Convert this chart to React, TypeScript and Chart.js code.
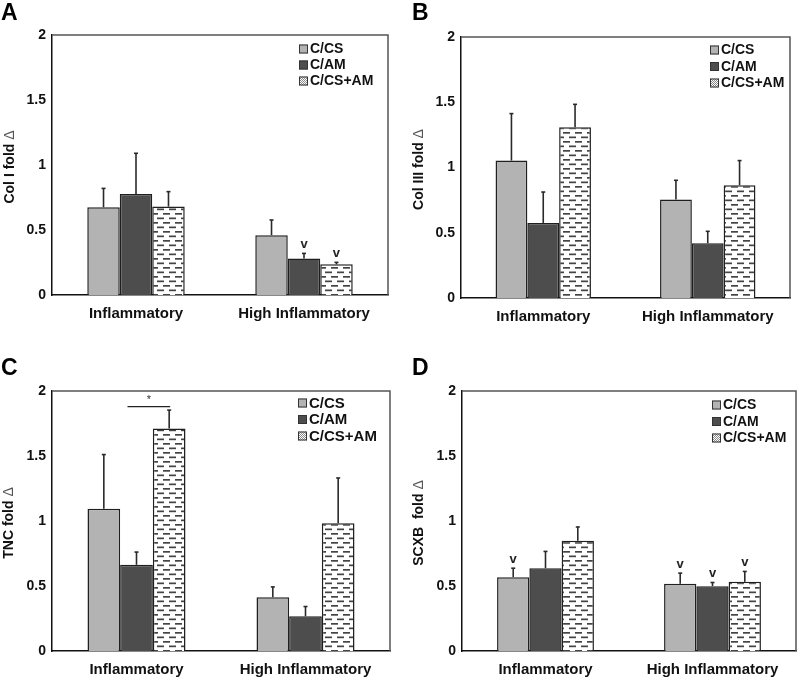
import React, { useEffect, useRef } from "react";
import { Chart, registerables } from "chart.js";
Chart.register(...registerables);

// ---------- DATA ----------
const categories = ["Inflammatory", "High Inflammatory"];
const seriesNames = ["C/CS", "C/AM", "C/CS+AM"];
const yTickValues = [0, 0.5, 1, 1.5, 2];

// Panel A: Col I
const colI_CS = [0.675, 0.46];
const colI_AM = [0.777, 0.28];
const colI_CSAM = [0.68, 0.236];
const colI_CS_sd = [0.145, 0.117];
const colI_AM_sd = [0.313, 0.04];
const colI_CSAM_sd = [0.115, 0.015];
const colI_CS_mark = ["", ""];
const colI_AM_mark = ["", "v"];
const colI_CSAM_mark = ["", "v"];

// Panel B: Col III
const colIII_CS = [1.053, 0.754];
const colIII_AM = [0.575, 0.419];
const colIII_CSAM = [1.308, 0.864];
const colIII_CS_sd = [0.36, 0.148];
const colIII_AM_sd = [0.237, 0.092];
const colIII_CSAM_sd = [0.176, 0.189];
const colIII_CS_mark = ["", ""];
const colIII_AM_mark = ["", ""];
const colIII_CSAM_mark = ["", ""];

// Panel C: TNC
const tnc_CS = [1.095, 0.414];
const tnc_AM = [0.663, 0.267];
const tnc_CSAM = [1.712, 0.982];
const tnc_CS_sd = [0.416, 0.079];
const tnc_AM_sd = [0.098, 0.075];
const tnc_CSAM_sd = [0.141, 0.349];
const tnc_CS_mark = ["", ""];
const tnc_AM_mark = ["", ""];
const tnc_CSAM_mark = ["", ""];
// significance bracket: category index, from series, to series, y value, label
const tnc_sigCategory = 0;
const tnc_sigFrom = 1;
const tnc_sigTo = 2;
const tnc_sigValue = 1.88;
const tnc_sigLabel = "*";

// Panel D: SCXB
const scxb_CS = [0.568, 0.517];
const scxb_AM = [0.637, 0.499];
const scxb_CSAM = [0.848, 0.532];
const scxb_CS_sd = [0.069, 0.082];
const scxb_AM_sd = [0.129, 0.028];
const scxb_CSAM_sd = [0.106, 0.08];
const scxb_CS_mark = ["v", "v"];
const scxb_AM_mark = ["", "v"];
const scxb_CSAM_mark = ["", "v"];

// ---------- STYLE ----------
const FONT = "'Liberation Sans', Arial, sans-serif";
const COL_CS = "#b3b3b3";
const COL_AM = "#4d4d4d";
const BORDER = "#1f1f1f";

function makeDashPattern(): CanvasPattern | string {
  const c = document.createElement("canvas");
  c.width = 12;
  c.height = 9;
  const g = c.getContext("2d");
  if (!g) return "#fff";
  g.fillStyle = "#ffffff";
  g.fillRect(0, 0, 12, 9);
  g.fillStyle = "#444";
  g.fillRect(1, 1.5, 7, 1.7);
  g.fillRect(7, 6, 5, 1.7);
  g.fillRect(0, 6, 2, 1.7);
  const p = g.createPattern(c, "repeat");
  return p || "#fff";
}

function makeBoxPattern(): CanvasPattern | string {
  const c = document.createElement("canvas");
  c.width = 2;
  c.height = 2;
  const g = c.getContext("2d");
  if (!g) return "#ddd";
  g.fillStyle = "#ffffff";
  g.fillRect(0, 0, 2, 2);
  g.fillStyle = "#888";
  g.fillRect(0, 0, 1, 1);
  g.fillRect(1, 1, 1, 1);
  return g.createPattern(c, "repeat") || "#ddd";
}

type Panel = {
  letter: string;
  yTitle: string;
  values: number[][];
  sds: number[][];
  marks: string[][];
  sig?: { cat: number; from: number; to: number; value: number; label: string };
  // layout
  left: number; top: number; w: number; h: number;
  padTop: number; padRight: number; yWidth: number; xHeight: number;
  legendX: number; legendY: number; legendGap: number; legendFont: number;
  titleX: number; letterX: number; letterY: number;
};

const panels: Panel[] = [
  {
    letter: "A", yTitle: "Col I fold",
    values: [colI_CS, colI_AM, colI_CSAM],
    sds: [colI_CS_sd, colI_AM_sd, colI_CSAM_sd],
    marks: [colI_CS_mark, colI_AM_mark, colI_CSAM_mark],
    left: 0, top: 0, w: 400, h: 339,
    padTop: 35, padRight: 12, yWidth: 52, xHeight: 44,
    legendX: 299, legendY: 49, legendGap: 16, legendFont: 14,
    titleX: 10, letterX: 1, letterY: 20,
  },
  {
    letter: "B", yTitle: "Col III fold",
    values: [colIII_CS, colIII_AM, colIII_CSAM],
    sds: [colIII_CS_sd, colIII_AM_sd, colIII_CSAM_sd],
    marks: [colIII_CS_mark, colIII_AM_mark, colIII_CSAM_mark],
    left: 400, top: 0, w: 400, h: 339,
    padTop: 37, padRight: 10, yWidth: 61, xHeight: 41,
    legendX: 310, legendY: 50, legendGap: 16.5, legendFont: 14,
    titleX: 19, letterX: 12, letterY: 20,
  },
  {
    letter: "C", yTitle: "TNC fold",
    values: [tnc_CS, tnc_AM, tnc_CSAM],
    sds: [tnc_CS_sd, tnc_AM_sd, tnc_CSAM_sd],
    marks: [tnc_CS_mark, tnc_AM_mark, tnc_CSAM_mark],
    sig: { cat: tnc_sigCategory, from: tnc_sigFrom, to: tnc_sigTo, value: tnc_sigValue, label: tnc_sigLabel },
    left: 0, top: 338, w: 400, h: 340,
    padTop: 53, padRight: 10, yWidth: 52, xHeight: 27,
    legendX: 298, legendY: 65, legendGap: 16.5, legendFont: 15,
    titleX: 9, letterX: 1, letterY: 37,
  },
  {
    letter: "D", yTitle: "SCXB  fold",
    values: [scxb_CS, scxb_AM, scxb_CSAM],
    sds: [scxb_CS_sd, scxb_AM_sd, scxb_CSAM_sd],
    marks: [scxb_CS_mark, scxb_AM_mark, scxb_CSAM_mark],
    left: 400, top: 338, w: 400, h: 340,
    padTop: 53, padRight: 4, yWidth: 62, xHeight: 27,
    legendX: 312, legendY: 67, legendGap: 16.5, legendFont: 14,
    titleX: 19, letterX: 12, letterY: 37,
  },
];

function PanelChart({ p }: { p: Panel }) {
  const ref = useRef<HTMLCanvasElement | null>(null);
  useEffect(() => {
    if (!ref.current) return;
    const dash = makeDashPattern();
    const boxPat = makeBoxPattern();
    const fills: any[] = [COL_CS, COL_AM, dash];
    const legendFills: any[] = [COL_CS, COL_AM, boxPat];

    const plugin = {
      id: "panelExtras",
      beforeDatasetsDraw(chart: any) {
        const { ctx, chartArea: a } = chart;
        ctx.save();
        ctx.strokeStyle = "#555";
        ctx.lineWidth = 1.5;
        ctx.beginPath();
        ctx.moveTo(a.left, a.top);
        ctx.lineTo(a.right, a.top);
        ctx.lineTo(a.right, a.bottom);
        ctx.stroke();
        ctx.restore();
      },
      afterDatasetsDraw(chart: any) {
        const { ctx } = chart;
        const ys = chart.scales.y;
        ctx.save();
        p.values.forEach((vals, si) => {
          const meta = chart.getDatasetMeta(si);
          meta.data.forEach((el: any, ci: number) => {
            const top = ys.getPixelForValue(vals[ci] + p.sds[si][ci]);
            ctx.strokeStyle = "#2a2a2a";
            ctx.lineWidth = 1.6;
            ctx.beginPath();
            ctx.moveTo(el.x, el.y);
            ctx.lineTo(el.x, top);
            ctx.stroke();
            ctx.beginPath();
            ctx.moveTo(el.x - 2, top);
            ctx.lineTo(el.x + 2, top);
            ctx.stroke();
            const m = p.marks[si][ci];
            if (m) {
              ctx.fillStyle = "#222";
              ctx.font = `bold 13px ${FONT}`;
              ctx.textAlign = "center";
              ctx.textBaseline = "alphabetic";
              ctx.fillText(m, el.x, top - 5);
            }
          });
        });
        if (p.sig) {
          const s = p.sig;
          const x1 = chart.getDatasetMeta(s.from).data[s.cat].x - 9;
          const x2 = chart.getDatasetMeta(s.to).data[s.cat].x + 1;
          const y = ys.getPixelForValue(s.value);
          ctx.strokeStyle = "#222";
          ctx.lineWidth = 1.2;
          ctx.beginPath();
          ctx.moveTo(x1, y);
          ctx.lineTo(x2, y);
          ctx.stroke();
          ctx.fillStyle = "#333";
          ctx.font = `11px ${FONT}`;
          ctx.textAlign = "center";
          ctx.textBaseline = "alphabetic";
          ctx.fillText(s.label, (x1 + x2) / 2, y - 4);
        }
        ctx.restore();
      },
      afterDraw(chart: any) {
        const { ctx, chartArea: a } = chart;
        ctx.save();
        // legend
        seriesNames.forEach((name, i) => {
          const cy = p.legendY + i * p.legendGap;
          ctx.fillStyle = legendFills[i];
          ctx.fillRect(p.legendX, cy - 4.5, 9, 9);
          ctx.strokeStyle = "#333";
          ctx.lineWidth = 1;
          ctx.strokeRect(p.legendX + 0.5, cy - 4, 8, 8);
          ctx.fillStyle = "#111";
          ctx.font = `bold ${p.legendFont}px ${FONT}`;
          ctx.textAlign = "left";
          ctx.textBaseline = "middle";
          ctx.fillText(name, p.legendX + 11, cy + 0.5);
        });
        // panel letter
        ctx.fillStyle = "#000";
        ctx.font = `bold 23px ${FONT}`;
        ctx.textAlign = "left";
        ctx.textBaseline = "alphabetic";
        ctx.fillText(p.letter, p.letterX, p.letterY);
        // y title
        const cy = (a.top + a.bottom) / 2 + 2;
        ctx.translate(p.titleX, cy);
        ctx.rotate(-Math.PI / 2);
        ctx.font = `bold 14px ${FONT}`;
        const t1 = p.yTitle + " ";
        const w1 = ctx.measureText(t1).width;
        ctx.font = `14px ${FONT}`;
        const w2 = ctx.measureText("Δ").width;
        const start = -(w1 + w2) / 2;
        ctx.textBaseline = "middle";
        ctx.textAlign = "left";
        ctx.fillStyle = "#111";
        ctx.font = `bold 14px ${FONT}`;
        ctx.fillText(t1, start, 0);
        ctx.fillStyle = "#555";
        ctx.font = `14px ${FONT}`;
        ctx.fillText("Δ", start + w1, 0);
        ctx.restore();
      },
    };

    const chart = new Chart(ref.current, {
      type: "bar",
      data: {
        labels: categories,
        datasets: p.values.map((vals, i) => ({
          label: seriesNames[i],
          data: vals,
          backgroundColor: fills[i],
          borderColor: BORDER,
          borderWidth: 1.5,
          categoryPercentage: 0.58,
          barPercentage: 1,
        })),
      },
      options: {
        responsive: false,
        animation: false,
        events: [],
        layout: { padding: { top: p.padTop, right: p.padRight, left: 0, bottom: 0 } },
        plugins: { legend: { display: false }, tooltip: { enabled: false }, title: { display: false } },
        scales: {
          x: {
            grid: { display: false, drawTicks: false, tickLength: 0 },
            border: { display: true, color: "#111", width: 1.5 },
            ticks: { color: "#111", padding: 10, font: { family: FONT, size: 15, weight: "bold" } },
            afterFit: (s: any) => { s.height = p.xHeight; },
          },
          y: {
            min: yTickValues[0],
            max: yTickValues[yTickValues.length - 1],
            grid: { display: false, drawTicks: false, tickLength: 0 },
            border: { display: true, color: "#111", width: 1.5 },
            afterBuildTicks: (s: any) => { s.ticks = yTickValues.map((v) => ({ value: v })); },
            ticks: {
              color: "#111",
              padding: 6,
              font: { family: FONT, size: 14, weight: "bold" },
              callback: (v: any) => String(v),
            },
            afterFit: (s: any) => { s.width = p.yWidth; },
          },
        },
      },
      plugins: [plugin],
    } as any);
    return () => chart.destroy();
  }, [p]);
  return (
    <div style={{ position: "absolute", left: p.left, top: p.top, width: p.w, height: p.h }}>
      <canvas ref={ref} width={p.w} height={p.h} style={{ display: "block" }} />
    </div>
  );
}

export default function App() {
  return (
    <div style={{ position: "absolute", left: 0, top: 0, width: 800, height: 678, background: "#fff", overflow: "hidden" }}>
      {panels.map((p) => (
        <PanelChart key={p.letter} p={p} />
      ))}
    </div>
  );
}
